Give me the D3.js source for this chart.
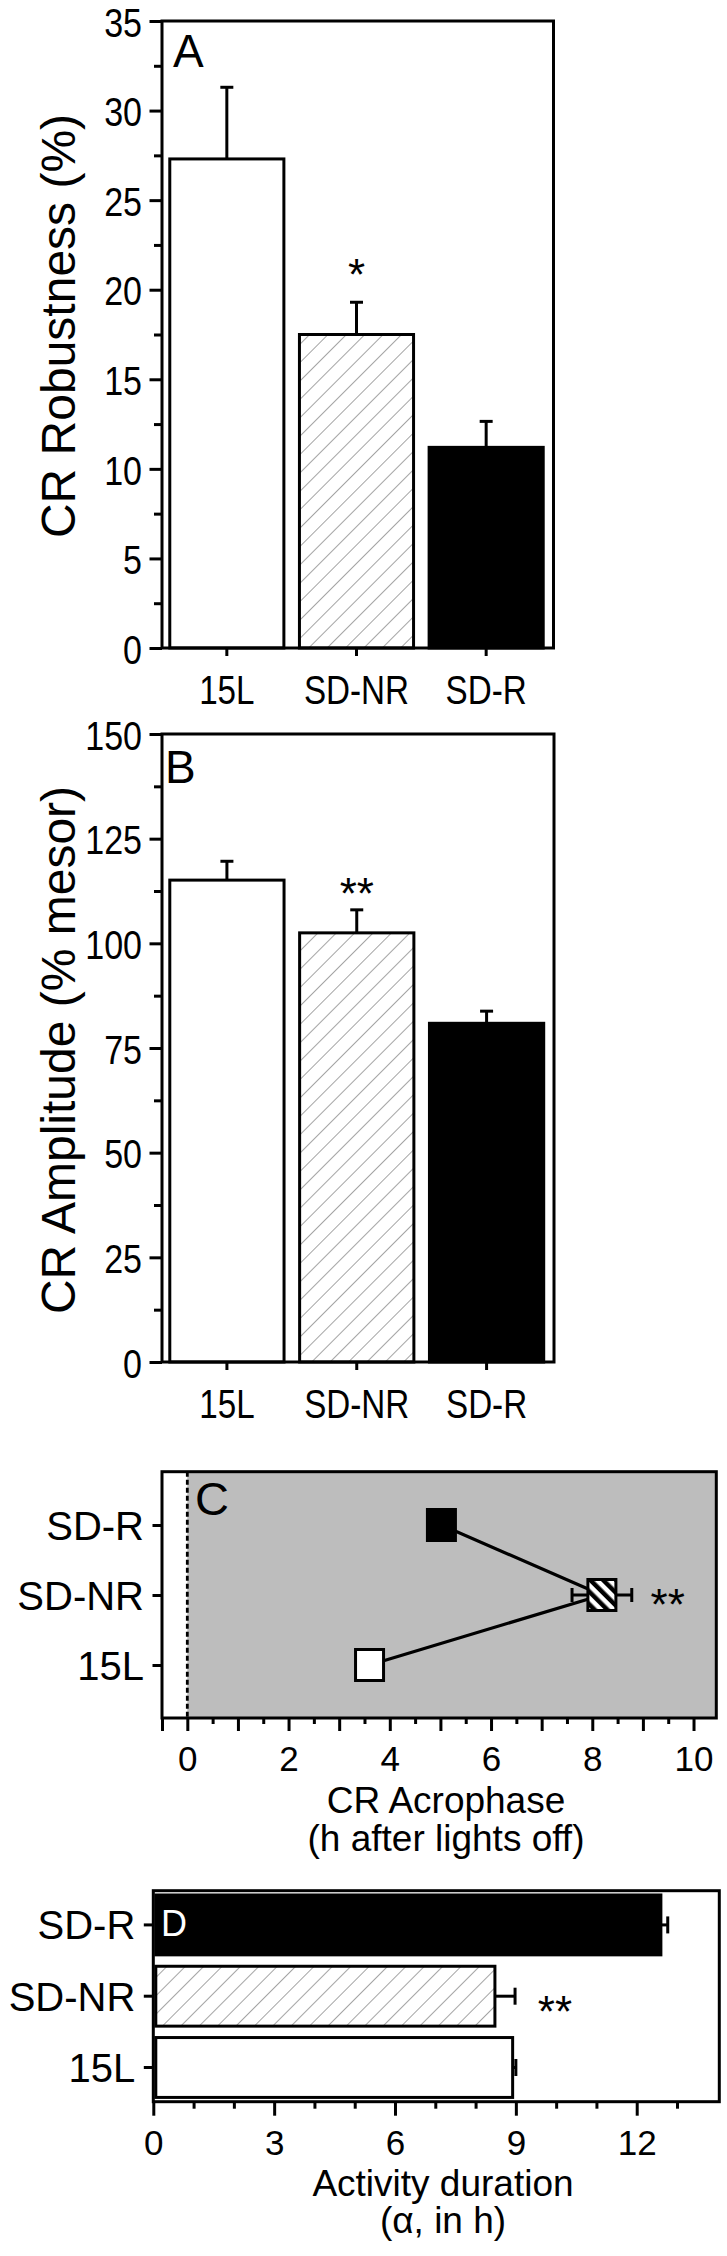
<!doctype html>
<html lang="en">
<head>
<meta charset="UTF-8">
<title>CR parameters</title>
<script src="https://d3js.org/d3.v7.min.js"></script>
<style>
  body { margin: 0; background: #fff; }
  svg { display: block; }
</style>
</head>
<body>
<script>
// group order for the bar panels (left to right)
var groups = ["15L", "SD-NR", "SD-R"];
// order for the horizontal panels (top to bottom)
var groupsTopDown = ["SD-R", "SD-NR", "15L"];

// A: CR robustness (%)
var robustMean = [27.3, 17.5, 11.2];
var robustErr = [4.0, 1.8, 1.45];
var robustTicks = [0, 5, 10, 15, 20, 25, 30, 35];

// B: CR amplitude (% mesor)
var ampMean = [115.1, 102.5, 80.9];
var ampErr = [4.5, 5.5, 2.9];
var ampTicks = [0, 25, 50, 75, 100, 125, 150];

// C: acrophase (h after lights off)
var acroMean = [3.6, 8.19, 5.02];
var acroErr = [0.12, 0.59, 0.25];
var acroTicks = [0, 2, 4, 6, 8, 10];

// D: activity duration (alpha, h)
var durMean = [8.92, 8.48, 12.6];
var durErr = [0.08, 0.5, 0.17];
var durTicks = [0, 3, 6, 9, 12];

var sans = "'Liberation Sans', Arial, sans-serif";
var squeeze = 0.83;   // top panels use a condensed face
var LW = 3;

var svg = d3.select("body").append("svg")
    .attr("width", 727)
    .attr("height", 2256);

var defs = svg.append("defs");
// thin hatch for SD-NR bars
var hatch = defs.append("pattern")
    .attr("id", "hatch")
    .attr("patternUnits", "userSpaceOnUse")
    .attr("width", 13).attr("height", 13)
    .attr("patternTransform", "rotate(45)");
hatch.append("rect").attr("width", 13).attr("height", 13).attr("fill", "#fff");
hatch.append("line").attr("x1", 0).attr("y1", 0).attr("x2", 0).attr("y2", 13)
    .attr("stroke", "#666").attr("stroke-width", 1.2);
// thick stripes for the SD-NR marker in C
var stripes = defs.append("pattern")
    .attr("id", "stripes")
    .attr("patternUnits", "userSpaceOnUse")
    .attr("width", 9).attr("height", 9)
    .attr("patternTransform", "rotate(-45)");
stripes.append("rect").attr("width", 9).attr("height", 9).attr("fill", "#fff");
stripes.append("rect").attr("width", 4.5).attr("height", 9).attr("fill", "#000");

var fills = ["#fff", "url(#hatch)", "#000"];

function styleAxis(sel) {
    sel.select(".domain").remove();
    sel.selectAll(".tick line").attr("stroke", "#000").attr("stroke-width", LW);
}

function barPanel(cfg) {
    var g = svg.append("g");
    var x = d3.scaleBand().domain(groups)
        .range([cfg.left, cfg.right - 2.5])
        .paddingInner(0.12).paddingOuter(0.06);
    var y = d3.scaleLinear().domain([0, cfg.max]).range([cfg.bottom, cfg.top]);

    // error bars (upper half only)
    groups.forEach(function (d, i) {
        var cx = x(d) + x.bandwidth() / 2;
        g.append("line").attr("x1", cx).attr("x2", cx)
            .attr("y1", y(cfg.mean[i])).attr("y2", y(cfg.mean[i] + cfg.err[i]))
            .attr("stroke", "#000").attr("stroke-width", LW);
        g.append("line").attr("x1", cx - 6.5).attr("x2", cx + 6.5)
            .attr("y1", y(cfg.mean[i] + cfg.err[i])).attr("y2", y(cfg.mean[i] + cfg.err[i]))
            .attr("stroke", "#000").attr("stroke-width", LW);
    });

    g.selectAll("rect.bar").data(groups).join("rect")
        .attr("class", "bar")
        .attr("x", function (d) { return x(d); })
        .attr("y", function (d, i) { return y(cfg.mean[i]); })
        .attr("width", x.bandwidth())
        .attr("height", function (d, i) { return y(0) - y(cfg.mean[i]); })
        .attr("fill", function (d, i) { return fills[i]; })
        .attr("stroke", "#000").attr("stroke-width", LW);

    // frame
    g.append("rect").attr("x", cfg.left).attr("y", cfg.top)
        .attr("width", cfg.right - cfg.left).attr("height", cfg.bottom - cfg.top)
        .attr("fill", "none").attr("stroke", "#000").attr("stroke-width", LW);

    // y axis: major + minor ticks
    var yAx = g.append("g").attr("transform", "translate(" + cfg.left + ",0)")
        .call(d3.axisLeft(y).tickValues(cfg.ticks).tickSize(12.5).tickSizeOuter(0));
    styleAxis(yAx);
    yAx.selectAll("text").attr("x", -20 / squeeze).attr("dy", "0.37em")
        .attr("transform", "scale(" + squeeze + ",1)")
        .style("font-family", sans).style("font-size", "41px").attr("fill", "#000");
    var minor = cfg.ticks.slice(0, -1).map(function (t) { return t + (cfg.ticks[1] - cfg.ticks[0]) / 2; });
    var yMin = g.append("g").attr("transform", "translate(" + cfg.left + ",0)")
        .call(d3.axisLeft(y).tickValues(minor).tickSize(8).tickFormat(""));
    styleAxis(yMin);

    // x axis category ticks
    var xAx = g.append("g").attr("transform", "translate(0," + cfg.bottom + ")")
        .call(d3.axisBottom(x).tickSize(8).tickSizeOuter(0));
    styleAxis(xAx);
    xAx.selectAll("text").attr("y", 56).attr("dy", null)
        .attr("transform", "scale(" + squeeze + ",1)")
        .style("font-family", sans).style("font-size", "40px").attr("fill", "#000");

    // y title
    g.append("text")
        .attr("transform", "translate(75," + cfg.titleY + ") rotate(-90)")
        .attr("text-anchor", "middle")
        .style("font-family", sans).style("font-size", "48px")
        .text(cfg.title);

    // panel letter
    g.append("text").attr("x", cfg.letterX).attr("y", cfg.letterY)
        .style("font-family", sans).style("font-size", "46px")
        .text(cfg.letter);

    // significance mark
    g.append("text")
        .attr("x", x(cfg.star.group) + x.bandwidth() / 2)
        .attr("y", y(cfg.star.value) + 0.573 * 44)
        .attr("text-anchor", "middle")
        .style("font-family", sans).style("font-size", "44px")
        .text(cfg.star.text);
}

barPanel({
    left: 162, right: 553.5, top: 21, bottom: 648, max: 35,
    mean: robustMean, err: robustErr, ticks: robustTicks,
    title: "CR Robustness (%)", titleY: 326,
    letter: "A", letterX: 173, letterY: 66.5,
    star: {group: "SD-NR", value: 21.4, text: "*"}
});

barPanel({
    left: 162, right: 554, top: 734, bottom: 1362, max: 150,
    mean: ampMean, err: ampErr, ticks: ampTicks,
    title: "CR Amplitude (% mesor)", titleY: 1050,
    letter: "B", letterX: 165, letterY: 783,
    star: {group: "SD-NR", value: 114.3, text: "**"}
});

// ---------- C: acrophase ----------
(function () {
    var left = 162, right = 716.3, top = 1471.7, bottom = 1718;
    var g = svg.append("g");
    var x = d3.scaleLinear().domain([-0.5, 10.45]).range([left, right]);
    var y = d3.scalePoint().domain(groupsTopDown).range([1525, 1665]);

    g.append("rect").attr("x", x(0)).attr("y", top)
        .attr("width", right - x(0)).attr("height", bottom - top)
        .attr("fill", "#bdbdbd");
    g.append("line").attr("x1", x(0)).attr("x2", x(0)).attr("y1", top).attr("y2", bottom)
        .attr("stroke", "#000").attr("stroke-width", 2.8).attr("stroke-dasharray", "5,3");

    // connecting line, in group order
    var pts = groups.map(function (d, i) { return [x(acroMean[i]), y(d)]; });
    g.append("path").attr("d", d3.line()(pts))
        .attr("fill", "none").attr("stroke", "#000").attr("stroke-width", 3.2);

    // horizontal error bars
    groups.forEach(function (d, i) {
        var lo = x(acroMean[i] - acroErr[i]), hi = x(acroMean[i] + acroErr[i]), cy = y(d);
        g.append("line").attr("x1", lo).attr("x2", hi).attr("y1", cy).attr("y2", cy)
            .attr("stroke", "#000").attr("stroke-width", LW);
        [lo, hi].forEach(function (v) {
            g.append("line").attr("x1", v).attr("x2", v).attr("y1", cy - 7).attr("y2", cy + 7)
                .attr("stroke", "#000").attr("stroke-width", LW);
        });
    });

    var mFill = ["#fff", "url(#stripes)", "#000"];
    g.selectAll("rect.mark").data(groups).join("rect")
        .attr("class", "mark")
        .attr("x", function (d, i) { return x(acroMean[i]) - 14; })
        .attr("y", function (d) { return y(d) - 15.5; })
        .attr("width", 28).attr("height", 31)
        .attr("fill", function (d, i) { return mFill[i]; })
        .attr("stroke", "#000").attr("stroke-width", LW);

    g.append("rect").attr("x", left).attr("y", top)
        .attr("width", right - left).attr("height", bottom - top)
        .attr("fill", "none").attr("stroke", "#000").attr("stroke-width", LW);

    var major = d3.range(0, 11, 1).concat([-0.5]);
    var minor = d3.range(0.5, 10, 1);
    var xAx = g.append("g").attr("transform", "translate(0," + bottom + ")")
        .call(d3.axisBottom(x).tickValues(major).tickSize(13)
            .tickFormat(function (d) { return acroTicks.indexOf(d) >= 0 ? d : ""; }));
    styleAxis(xAx);
    xAx.selectAll("text").attr("y", 53).attr("dy", null)
        .style("font-family", sans).style("font-size", "35px").attr("fill", "#000");
    var xMin = g.append("g").attr("transform", "translate(0," + bottom + ")")
        .call(d3.axisBottom(x).tickValues(minor).tickSize(6).tickFormat(""));
    styleAxis(xMin);

    var yAx = g.append("g").attr("transform", "translate(" + left + ",0)")
        .call(d3.axisLeft(y).tickSize(9.5));
    styleAxis(yAx);
    yAx.selectAll("text").attr("x", -18).attr("dy", "0.358em")
        .style("font-family", sans).style("font-size", "40px").attr("fill", "#000");

    g.append("text").attr("x", 195).attr("y", 1515)
        .style("font-family", sans).style("font-size", "47px").text("C");

    g.append("text").attr("x", x(9.49)).attr("y", y("SD-NR") + 0.573 * 44)
        .attr("text-anchor", "middle")
        .style("font-family", sans).style("font-size", "44px").text("**");

    var t = g.append("text").attr("text-anchor", "middle")
        .style("font-family", sans).style("font-size", "37px");
    t.append("tspan").attr("x", 446).attr("y", 1813).text("CR Acrophase");
    t.append("tspan").attr("x", 446).attr("y", 1851).text("(h after lights off)");
})();

// ---------- D: activity duration ----------
(function () {
    var left = 153.3, right = 719.3, top = 1890.7, bottom = 2101.7;
    var g = svg.append("g");
    var x = d3.scaleLinear().domain([0, 14.05]).range([left, right]);
    var y = d3.scaleBand().domain(groupsTopDown).range([top, bottom])
        .paddingInner(0.16).paddingOuter(0.06);

    groups.forEach(function (d, i) {
        var cy = y(d) + y.bandwidth() / 2;
        var hi = x(durMean[i] + durErr[i]);
        g.append("line").attr("x1", x(durMean[i])).attr("x2", hi).attr("y1", cy).attr("y2", cy)
            .attr("stroke", "#000").attr("stroke-width", LW);
        g.append("line").attr("x1", hi).attr("x2", hi).attr("y1", cy - 8.5).attr("y2", cy + 8.5)
            .attr("stroke", "#000").attr("stroke-width", LW);
    });

    g.selectAll("rect.bar").data(groups).join("rect")
        .attr("class", "bar")
        .attr("x", x(0) + 2.5)
        .attr("y", function (d) { return y(d); })
        .attr("width", function (d, i) { return x(durMean[i]) - x(0) - 2.5; })
        .attr("height", y.bandwidth())
        .attr("fill", function (d, i) { return fills[i]; })
        .attr("stroke", "#000").attr("stroke-width", LW);

    g.append("rect").attr("x", left).attr("y", top)
        .attr("width", right - left).attr("height", bottom - top)
        .attr("fill", "none").attr("stroke", "#000").attr("stroke-width", LW);

    var xAx = g.append("g").attr("transform", "translate(0," + bottom + ")")
        .call(d3.axisBottom(x).tickValues(durTicks).tickSize(14));
    styleAxis(xAx);
    xAx.selectAll("text").attr("y", 53.3).attr("dy", null)
        .style("font-family", sans).style("font-size", "35px").attr("fill", "#000");
    var minor = d3.range(1, 14, 1).filter(function (v) { return v % 3 !== 0; });
    var xMin = g.append("g").attr("transform", "translate(0," + bottom + ")")
        .call(d3.axisBottom(x).tickValues(minor).tickSize(7).tickFormat(""));
    styleAxis(xMin);

    var yAx = g.append("g").attr("transform", "translate(" + left + ",0)")
        .call(d3.axisLeft(y).tickSize(9.5));
    styleAxis(yAx);
    yAx.selectAll("text").attr("x", -18).attr("dy", "0.358em")
        .style("font-family", sans).style("font-size", "40px").attr("fill", "#000");

    g.append("text").attr("x", 161).attr("y", 1936)
        .attr("fill", "#fff")
        .style("font-family", sans).style("font-size", "36px").text("D");

    g.append("text").attr("x", x(9.97)).attr("y", y("SD-NR") + y.bandwidth() / 2 + 6 + 0.573 * 44)
        .attr("text-anchor", "middle")
        .style("font-family", sans).style("font-size", "44px").text("**");

    var t = g.append("text").attr("text-anchor", "middle")
        .style("font-family", sans).style("font-size", "37px");
    t.append("tspan").attr("x", 443).attr("y", 2196).text("Activity duration");
    t.append("tspan").attr("x", 443).attr("y", 2233).text("(\u03b1, in h)");
})();
</script>
</body>
</html>
